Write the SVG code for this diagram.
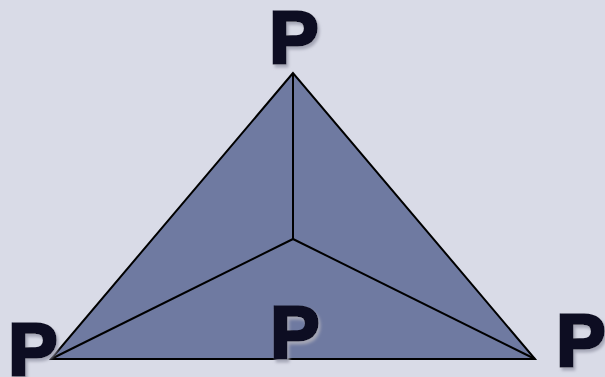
<svg xmlns="http://www.w3.org/2000/svg" width="605" height="377" viewBox="0 0 605 377">
<style>
.lbl{font-family:"Liberation Sans",Arial,sans-serif;font-weight:bold;font-size:74px;fill:#0c0b22;stroke:#0c0b22;stroke-width:3;stroke-linejoin:miter;text-anchor:middle;filter:url(#sh)}
.face{fill:#6f7aa1;stroke:#000;stroke-width:2;stroke-linejoin:miter}
.edge{stroke:#000;stroke-width:2;fill:none}
</style>
<defs>
<filter id="sh" x="-30%" y="-30%" width="160%" height="160%">
<feDropShadow dx="2" dy="3" stdDeviation="1.8" flood-color="#a4a6b6" flood-opacity="1"/>
</filter>
</defs>
<rect width="605" height="377" fill="#d9dbe7"/>
<g id="pyramid">
<polygon class="face" points="293,73 51,359 535,359"/>
</g>
<g id="connectors">
<line class="edge" x1="293" y1="73" x2="293" y2="239"/>
<line class="edge" x1="293" y1="239" x2="51" y2="359"/>
<line class="edge" x1="293" y1="239" x2="535" y2="359"/>
</g>
<g id="p-top"><text class="lbl" x="294" y="63">P</text></g>
<g id="p-left"><text class="lbl" x="33" y="375">P</text></g>
<g id="p-mid"><text class="lbl" x="295" y="358">P</text></g>
<g id="p-right"><text class="lbl" x="581" y="366">P</text></g>
</svg>
